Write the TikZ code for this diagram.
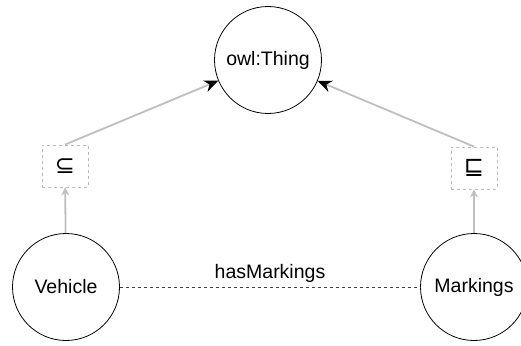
\documentclass[tikz,border=0pt]{standalone}
\usepackage{fontspec}
\setmainfont{Liberation Sans}
\newfontfamily\symfont{DejaVu Sans}
\usetikzlibrary{arrows.meta}
\tikzset{
  cls/.style={circle, draw=black, line width=0.8pt, minimum size=107pt, inner sep=0pt, font=\fontsize{19.5}{22}\selectfont},
  subbox/.style={draw=gray!55, dashed, line width=0.8pt, minimum width=46pt, minimum height=42pt, inner sep=0pt, font=\symfont\fontsize{24}{26}\selectfont},
  toparent/.style={draw=gray!50, line width=1.8pt, -{Stealth[length=14pt,width=12pt,black]}},
  tobox/.style={draw=gray!50, line width=1.8pt, -{Stealth[length=8pt,width=8pt]}},
  prop/.style={draw=black!75, dashed, line width=0.7pt},
  proplabel/.style={font=\fontsize{19.5}{22}\selectfont}
}
\begin{document}
\begin{tikzpicture}[x=1pt, y=-1pt]
  \useasboundingbox (0,0) rectangle (521,345);

  % classes
  \node[cls] (thing) at (268,60) {owl:Thing};
  \node[cls] (vehicle) at (66,287) {Vehicle};
  \node[cls] (markings) at (474,287) {Markings};

  % subclass markers
  \node[subbox] (lsub) at (65,166) {⊆};
  \node[subbox] (rsub) at (474,168) {⊑};

  % subclass edges
  \draw[tobox] (vehicle) -- (lsub);
  \draw[toparent] (lsub.north) -- (thing);
  \draw[tobox] (markings) -- (rsub);
  \draw[toparent] (rsub.north) -- (thing);

  % object property
  \draw[prop] (vehicle) -- node[proplabel, above=1pt] (hm) {hasMarkings} (markings);
\end{tikzpicture}
\end{document}
